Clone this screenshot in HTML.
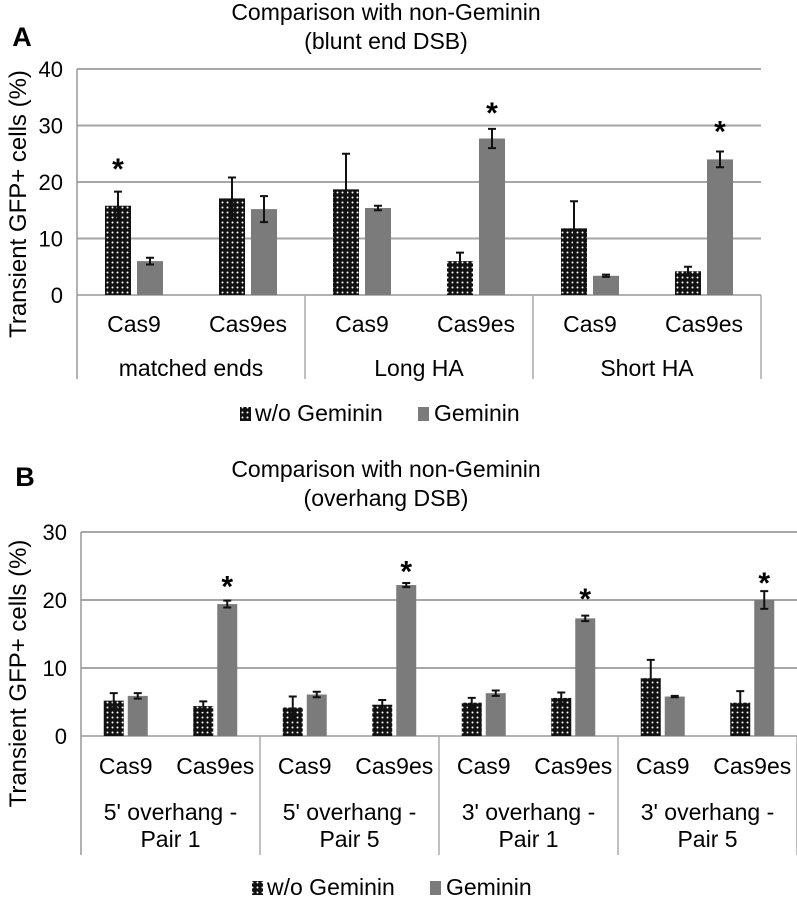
<!DOCTYPE html>
<html><head><meta charset="utf-8"><style>
html,body{margin:0;padding:0;background:#fff;}
svg{display:block;font-family:"Liberation Sans",sans-serif;}
</style></head><body>
<svg id="chart" width="797" height="897" viewBox="0 0 797 897">
<defs>
<pattern id="dots" width="5" height="5" patternUnits="userSpaceOnUse">
<rect width="5" height="5" fill="#111"/>
<circle cx="2.5" cy="2.5" r="1" fill="#fff"/>
</pattern>
</defs>
</svg>
<script>
// Panel A data
const catsA = ["Cas9","Cas9es","Cas9","Cas9es","Cas9","Cas9es"];
const groupsA = ["matched ends","Long HA","Short HA"];
const woA = [15.8,17.1,18.7,6.0,11.8,4.2];
const woErrA = [2.5,3.7,6.3,1.5,4.8,0.8];
const gemA = [6.0,15.2,15.4,27.7,3.4,24.0];
const gemErrA = [0.6,2.3,0.4,1.7,0.2,1.4];
const starsA = [[0,"wo",23.4],[3,"gem",33.3],[5,"gem",30.0]];
const ticksA = [0,10,20,30,40];
// Panel B data
const catsB = ["Cas9","Cas9es","Cas9","Cas9es","Cas9","Cas9es","Cas9","Cas9es"];
const groupsB = [["5' overhang -","Pair 1"],["5' overhang -","Pair 5"],["3' overhang -","Pair 1"],["3' overhang -","Pair 5"]];
const woB = [5.2,4.4,4.2,4.6,4.9,5.6,8.5,4.9];
const woErrB = [1.1,0.7,1.6,0.7,0.7,0.8,2.7,1.7];
const gemB = [5.9,19.4,6.1,22.2,6.3,17.3,5.8,20.0];
const gemErrB = [0.4,0.5,0.4,0.3,0.4,0.4,0.1,1.3];
const starsB = [[1,"gem",22.9],[3,"gem",25.1],[5,"gem",21.0],[7,"gem",23.4]];
const ticksB = [0,10,20,30];

const svg = document.getElementById('chart');
const NS = "http://www.w3.org/2000/svg";
function mk(tag, attrs, parent){
  const e = document.createElementNS(NS, tag);
  for (const k in attrs) e.setAttribute(k, attrs[k]);
  (parent||svg).appendChild(e);
  return e;
}
function txt(str, x, y, size, opts){
  opts = opts||{};
  const t = mk('text', {x:x, y:y, 'font-size':size, 'text-anchor':opts.anchor||'middle', fill:'#000', 'font-weight':opts.bold?'bold':'normal'});
  if (opts.rot) t.setAttribute('transform', 'rotate(-90 '+x+' '+y+')');
  t.textContent = str;
  return t;
}

function panel(cfg){
  const {x0,x1,yTop,y0,ymax,cats,groups,wo,woErr,gem,gemErr,stars,ticks,barW,gap,catY,grpY,axisBottom,legY,legX,titleY,letter,letterPos,subtitle,name} = cfg;
  const g = mk('g', {});
  
  
  const yS = v => y0 - (v/ymax)*(y0-yTop);
  const slot = (x1-x0)/cats.length;
  const xC = i => x0 + slot*(i+0.5);
  const t1 = txt("Comparison with non-Geminin", 386, titleY, 23);
  
  
  const t2 = txt(subtitle, 386, titleY+29, 23);
  
  
  const L = txt(letter, letterPos[0], letterPos[1], 27, {bold:true});
  
  
  ticks.forEach(v => {
    const y = yS(v);
    if (v>0){
      const gl = mk('line', {x1:x0, x2:x1, y1:y, y2:y, stroke:'#a6a6a6', 'stroke-width':2}, g);
      
      
    }
    const tl = txt(String(v), x0-14, y+8, 22, {anchor:'end'});
    
    
  });
  mk('line', {x1:x0, x2:x0, y1:yTop, y2:axisBottom, stroke:'#999', 'stroke-width':1.5}, g);
  mk('line', {x1:x0, x2:x1, y1:y0, y2:y0, stroke:'#999', 'stroke-width':1.5}, g);
  const perG = cats.length/groups.length;
  for (let k=1;k<=groups.length;k++){
    const xd = x0 + slot*perG*k;
    mk('line', {x1:xd, x2:xd, y1:y0, y2:axisBottom, stroke:'#aaa', 'stroke-width':1.5}, g);
  }
  const yt = txt("Transient GFP+ cells (%)", 26, (yTop+axisBottom)/2 - 20, 24, {rot:true});
  
  
  cats.forEach((c,i) => {
    const cx = xC(i);
    const bx1 = cx - gap/2 - barW, bx2 = cx + gap/2;
    const b1 = mk('rect', {x:bx1, y:yS(wo[i]), width:barW, height:y0-yS(wo[i]), fill:'url(#dots)'}, g);
    
    
    const b2 = mk('rect', {x:bx2, y:yS(gem[i]), width:barW, height:y0-yS(gem[i]), fill:'#7b7b7b'}, g);
    
    
    [[bx1+barW/2, wo[i], woErr[i]],[bx2+barW/2, gem[i], gemErr[i]]].forEach(([ex,v,e]) => {
      const p = mk('path', {d:`M${ex},${yS(v+e)}V${yS(v-e)}M${ex-4},${yS(v+e)}h8M${ex-4},${yS(v-e)}h8`, stroke:'#111', 'stroke-width':2, fill:'none'}, g);
      
      
    });
    const cl = txt(c, cx, catY, 23);
    
    
  });
  stars.forEach(([i,s,v]) => {
    const sx = s==="wo" ? xC(i)-gap/2-barW/2 : xC(i)+gap/2+barW/2;
    const st = txt("*", sx, yS(v)+16, 30, {bold:true});
    
    
  });
  groups.forEach((gr,k) => {
    const gx = x0 + slot*perG*(k+0.5);
    const lines = Array.isArray(gr)?gr:[gr];
    lines.forEach((ln,j) => {
      const gl = txt(ln, gx, grpY + j*27, 23);
      
      
    });
  });
  const lx = legX;
  const l1 = mk('rect', {x:lx, y:legY-14, width:11, height:14, fill:'url(#dots)'}, g);
  
  
  const lt1 = txt("w/o Geminin", lx+15, legY, 23, {anchor:'start'});
  
  
  const l2 = mk('rect', {x:lx+178, y:legY-14, width:11, height:14, fill:'#7b7b7b'}, g);
  
  
  const lt2 = txt("Geminin", lx+194, legY, 23, {anchor:'start'});
  
  
}

panel({name:'panel-a', x0:77, x1:761, yTop:69, y0:295, ymax:40, cats:catsA, groups:groupsA,
  wo:woA, woErr:woErrA, gem:gemA, gemErr:gemErrA, stars:starsA, ticks:ticksA,
  barW:26, gap:6, catY:332, grpY:376, axisBottom:379, legY:421, legX:240, titleY:20,
  letter:'A', letterPos:[22,46], subtitle:"(blunt end DSB)"});
panel({name:'panel-b', x0:81, x1:797, yTop:532, y0:736, ymax:30, cats:catsB, groups:groupsB,
  wo:woB, woErr:woErrB, gem:gemB, gemErr:gemErrB, stars:starsB, ticks:ticksB,
  barW:20, gap:4, catY:774, grpY:820, axisBottom:855, legY:895, legX:252, titleY:477,
  letter:'B', letterPos:[25,486], subtitle:"(overhang DSB)"});
</script>
</body></html>
